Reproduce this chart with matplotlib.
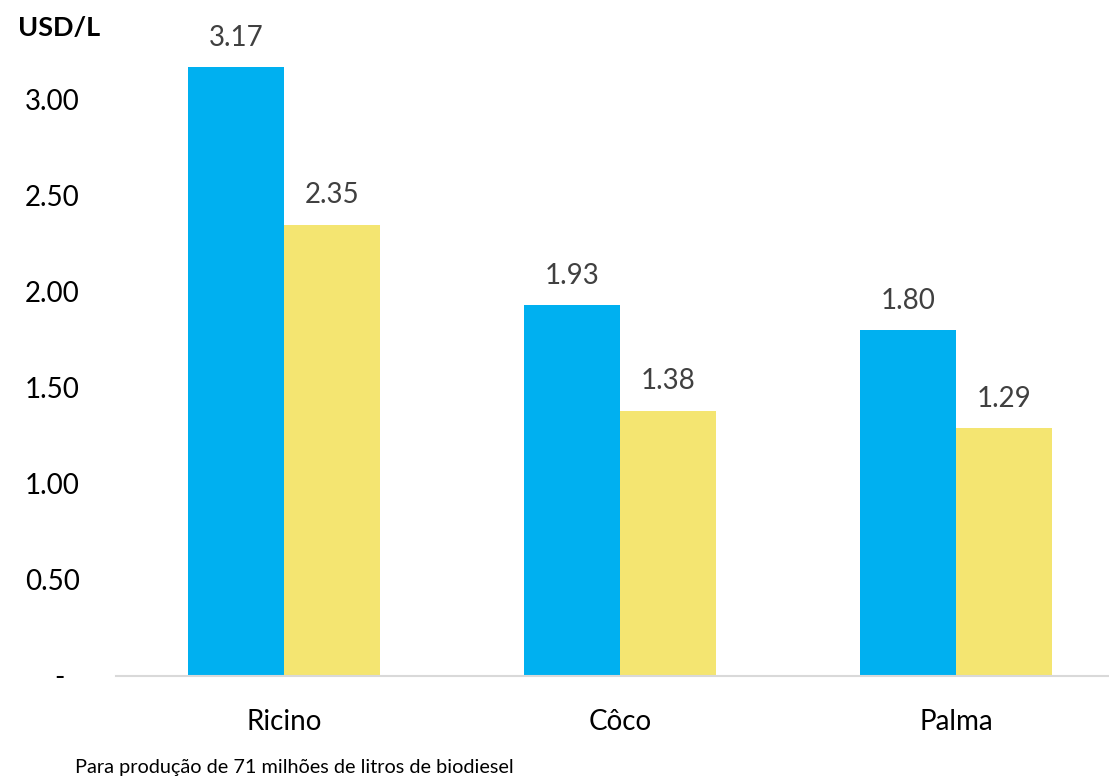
import numpy as np
import matplotlib
matplotlib.use("Agg")
import matplotlib.pyplot as plt

# Custo do biodiesel por matéria-prima (USD/L)
categorias = ["Ricino", "Côco", "Palma"]
serie_a = [3.17, 1.93, 1.80]
serie_b = [2.35, 1.38, 1.29]
yticks = [0.0, 0.5, 1.0, 1.5, 2.0, 2.5, 3.0]
ytick_labels = ["-  ", "0.50", "1.00", "1.50", "2.00", "2.50", "3.00"]

AZUL = "#00B0F0"
AMARELO = "#F4E571"
CINZA_TXT = "#404040"

plt.rcParams["font.family"] = ["Lato", "DejaVu Sans"]

fig = plt.figure(figsize=(11.09, 7.8), dpi=100)
ax = fig.add_axes([116 / 1109, 104 / 780, 1008 / 1109, 672 / 780])

x = np.arange(len(categorias))
w = 0.2857
b1 = ax.bar(x - w / 2, serie_a, width=w, color=AZUL, zorder=2)
b2 = ax.bar(x + w / 2, serie_b, width=w, color=AMARELO, zorder=2)

for barras in (b1, b2):
    for r in barras:
        ax.annotate(f"{r.get_height():.2f}",
                    (r.get_x() + r.get_width() / 2, r.get_height()),
                    xytext=(0, 12), textcoords="offset points",
                    ha="center", va="bottom", fontsize=20, color=CINZA_TXT)

ax.set_xlim(-0.5, 2.5)
ax.set_ylim(0, 3.5)
ax.set_yticks(yticks)
ax.set_yticklabels(ytick_labels)
ax.set_xticks(x)
ax.set_xticklabels(categorias)
ax.tick_params(axis="y", length=0, pad=26, labelsize=20, colors="black")
ax.tick_params(axis="x", length=0, pad=24, labelsize=20, colors="black")

for s in ("left", "right", "top"):
    ax.spines[s].set_visible(False)
ax.spines["bottom"].set_color("#D9D9D9")
ax.spines["bottom"].set_linewidth(1.5)

fig.text(18 / 1109, 1 - 28 / 780, "USD/L", fontsize=19.5, fontweight="bold",
         ha="left", va="center")
fig.text(75 / 1109, 1 - 767 / 780,
         "Para produção de 71 milhões de litros de biodiesel",
         fontsize=14.3, ha="left", va="center")

fig.savefig("out.png", dpi=100)
